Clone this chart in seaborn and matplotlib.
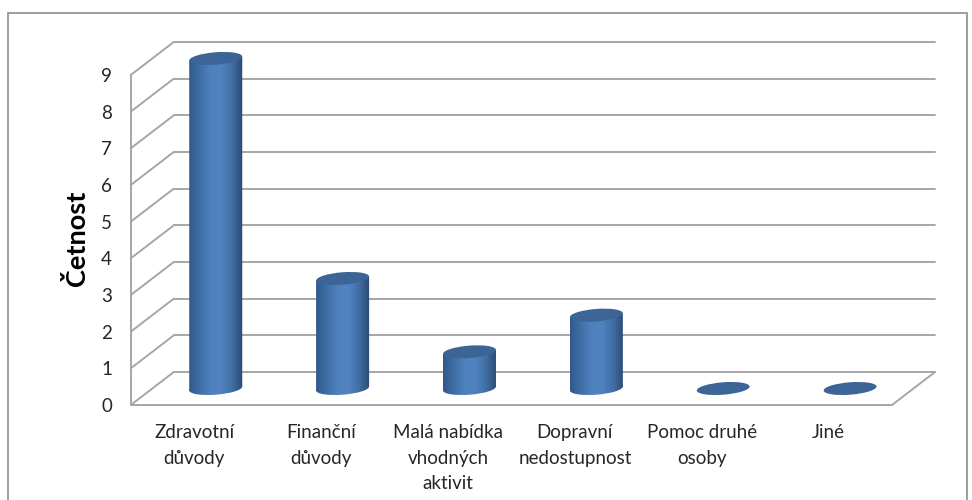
import numpy as np
import pandas as pd
import matplotlib
matplotlib.use('Agg')
import matplotlib.pyplot as plt
import seaborn as sns
from matplotlib.colors import LinearSegmentedColormap
from matplotlib.lines import Line2D
from matplotlib.patches import Ellipse, Rectangle
from matplotlib.path import Path
from matplotlib.transforms import Affine2D, IdentityTransform

categories = ['Zdravotní\ndůvody', 'Finanční\ndůvody', 'Malá nabídka\nvhodných\naktivit',
              'Dopravní\nnedostupnost', 'Pomoc druhé\nosoby', 'Jiné']
counts = [9, 3, 1, 2, 0, 0]
y_ticks = [0, 1, 2, 3, 4, 5, 6, 7, 8, 9]

sns.set_style('white')
plt.rcParams['font.family'] = ['Lato', 'DejaVu Sans']

W, H = 972, 500
fig = plt.figure(figsize=(W / 100, H / 100), dpi=100)

# axes sit in the middle plane of the fake 3D box, one unit below and above the value range
left, right = 152.3, 913.5
y0_px, unit_px = 388.5, 36.67
bottom_px = y0_px + unit_px
top_px = y0_px - 10 * unit_px
ax = fig.add_axes([left / W, 1 - bottom_px / H, (right - left) / W, (bottom_px - top_px) / H])

df = pd.DataFrame({'category': categories, 'count': counts})
sns.barplot(data=df, x='category', y='count', width=0.418, errorbar=None, ax=ax)
ax.set_xlim(-0.5, 5.5)
ax.set_ylim(-1, 10)
sns.despine(ax=ax, left=True, bottom=True)
ax.patch.set_alpha(0)

# depth of the box in pixels
dx, dy = 21.5, 16.5
grid = '#a6a6a6'
back = ax.transData + Affine2D().translate(dx, dy)
front = ax.transData + Affine2D().translate(-dx, -dy)


def seg(p, q):
    fig.add_artist(Line2D([p[0], q[0]], [p[1], q[1]], color=grid, lw=1.4,
                          transform=IdentityTransform(), zorder=-1))


for v in y_ticks:
    seg(front.transform((-0.5, v)), back.transform((-0.5, v)))
    seg(back.transform((-0.5, v)), back.transform((5.5, v)))
seg(front.transform((-0.5, 0)), front.transform((-0.5, 9)))
seg(front.transform((-0.5, 0)), front.transform((5.5, 0)))
seg(front.transform((5.5, 0)), back.transform((5.5, 0)))

# cylinders: bar geometry comes from the seaborn bars
cmap = LinearSegmentedColormap.from_list('cyl', ['#30598a', '#3f6fa8', '#4f81bd', '#5083c0', '#406ea4', '#2b4a70'])
tilt = 4.5
semi_minor = 6.2
for bar in ax.patches:
    bar.set_facecolor('none')
    bar.set_edgecolor('none')
    x0, w, v = bar.get_x(), bar.get_width(), bar.get_height()
    xc = x0 + w / 2
    a = (ax.transData.transform((x0 + w, 0))[0] - ax.transData.transform((x0, 0))[0]) / 2
    d = a * np.sin(np.radians(tilt))
    cx, yb = ax.transData.transform((xc, 0))
    yt = ax.transData.transform((xc, v))[1]
    if v > 0:
        body = np.array([[cx - a, yb - d], [cx + a, yb + d], [cx + a, yt + d], [cx - a, yt - d], [cx - a, yb - d]])
        base = Affine2D().scale(a, semi_minor).rotate_deg(tilt).translate(cx, yb)
        clip = Path.make_compound_path(Path(body, closed=True), Path.unit_circle().transformed(base))
        im = ax.imshow(np.linspace(0, 1, 256)[None, :], extent=(x0, x0 + w, -0.4, v + 0.3), aspect='auto',
                       cmap=cmap, interpolation='bilinear', zorder=3)
        im.set_clip_path(clip, IdentityTransform())
    cap = Ellipse((0, 0), 2, 2, facecolor='#3c6494', edgecolor='none',
                  transform=Affine2D().scale(a, semi_minor).rotate_deg(tilt).translate(cx, yt))
    fig.add_artist(cap)
    cap.set_zorder(4)
ax.set_xlim(-0.5, 5.5)
ax.set_ylim(-1, 10)

ax.set_yticks(y_ticks)
ax.set_xlabel('')
ax.set_ylabel('Četnost', fontsize=19.5, fontweight='bold', color='black')
ax.yaxis.set_label_coords(89 / W, 1 - 238 / H, transform=fig.transFigure)
ax.tick_params(axis='y', length=0, pad=29, labelsize=13.5, labelcolor='#262626')
ax.tick_params(axis='x', length=0, pad=0, labelsize=13.5, labelcolor='#262626')
for label in ax.get_yticklabels():
    label.set_transform(label.get_transform() + Affine2D().translate(0, -dy))
for label in ax.get_xticklabels():
    label.set_transform(label.get_transform() + Affine2D().translate(-dx, 1))
    label.set_linespacing(1.6)

# chart area border
fig.add_artist(Rectangle((8 / W, -0.02), (967 - 8) / W, 1 - 13 / H + 0.02, transform=fig.transFigure,
                         facecolor='none', edgecolor='#8c8c8c', lw=1.2, zorder=-2))

fig.savefig('out.png', dpi=100)
